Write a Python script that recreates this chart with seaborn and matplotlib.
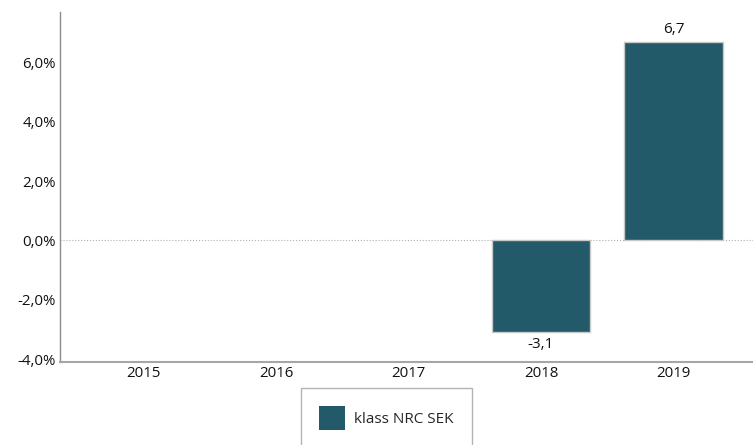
import numpy as np
import pandas as pd
import seaborn as sns
import matplotlib.pyplot as plt
from matplotlib.patches import Patch

years = ['2015', '2016', '2017', '2018', '2019']
returns = [np.nan, np.nan, np.nan, -3.1, 6.7]
series_name = 'klass NRC SEK'
bar_color = '#225a69'

df = pd.DataFrame({'year': years, 'return': returns})

sns.set_theme(style='white')
plt.rcParams['font.family'] = ['Open Sans', 'DejaVu Sans']

fig = plt.figure(figsize=(7.53, 4.45), dpi=100)
ax = fig.add_axes([0.0797, 0.1865, 0.9203, 0.7865])

sns.barplot(data=df, x='year', y='return', color=bar_color, width=0.74,
            edgecolor='#c8c8c8', linewidth=1, saturation=1, ax=ax)

ax.axhline(0, color='#b0b0b0', linestyle=':', linewidth=0.8, zorder=0)

for i, v in enumerate(returns):
    if np.isnan(v):
        continue
    label = f'{v:.1f}'.replace('.', ',')
    if v >= 0:
        ax.text(i, v + 0.15, label, ha='center', va='bottom', fontsize=11, color='#111111')
    else:
        ax.text(i, v - 0.15, label, ha='center', va='top', fontsize=11, color='#111111')

ax.set_ylim(-4.1, 7.7)
ax.set_xlim(-0.63, 4.6)
ax.set_yticks([-4, -2, 0, 2, 4, 6])
ax.set_yticklabels([f'{t:.1f}%'.replace('.', ',') for t in [-4, -2, 0, 2, 4, 6]])
ax.set_xlabel('')
ax.set_ylabel('')
ax.tick_params(axis='both', labelsize=10.8, colors='#111111', length=0, pad=3)

for s in ['top', 'right']:
    ax.spines[s].set_visible(False)
ax.spines['left'].set_color('#8c8c8c')
ax.spines['left'].set_linewidth(1)
ax.spines['bottom'].set_color('#a6a6a6')
ax.spines['bottom'].set_linewidth(1.5)

handle = Patch(facecolor=bar_color, edgecolor='none')
leg = fig.legend(handles=[handle], labels=[series_name], loc='upper center',
                 bbox_to_anchor=(0.513, 0.128), frameon=True, fancybox=False,
                 fontsize=11, handlelength=1.7, handleheight=2.0,
                 borderpad=1.2, handletextpad=0.6, borderaxespad=0)
leg.get_frame().set_edgecolor('#a0a0a0')
leg.get_frame().set_linewidth(1)

fig.savefig('out.png', dpi=100)
